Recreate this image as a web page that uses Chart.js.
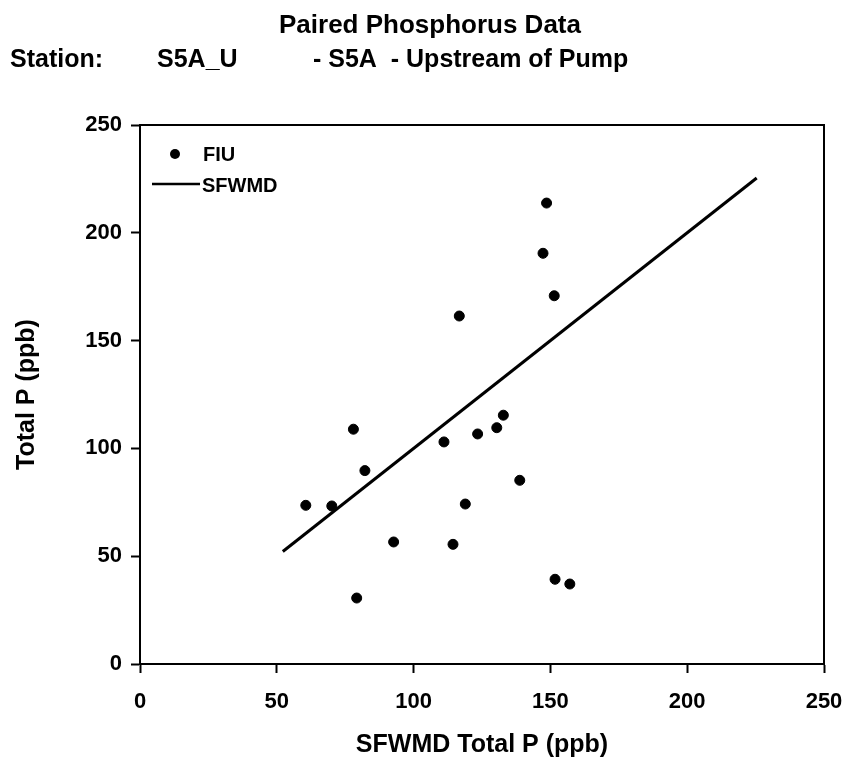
<!DOCTYPE html>
<html>
<head>
<meta charset="utf-8">
<script src="https://cdn.jsdelivr.net/npm/chart.js@4"></script>
<style>
  html, body { margin: 0; padding: 0; background: #fff; }
  #wrap { width: 850px; height: 761px; }
</style>
</head>
<body>
<div id="wrap"><canvas id="pChart" width="850" height="761"></canvas></div>
<script>
// FIU vs SFWMD paired total P (ppb)
const fiuX = [60.6, 70.1, 78.0, 82.2, 79.2, 92.7, 111.1, 114.4, 118.9, 123.4,
              130.4, 132.8, 138.8, 151.7, 157.1, 148.6, 147.3, 151.4, 116.7];
const fiuY = [73.6, 73.3, 108.9, 89.7, 30.6, 56.6, 103.0, 55.5, 74.2, 106.7,
              109.6, 115.4, 85.2, 39.3, 37.1, 213.8, 190.5, 170.8, 161.4];
// SFWMD reference line
const sfwmdX = [52.2, 225.4];
const sfwmdY = [52.2, 225.4];
const tickVals = [0, 50, 100, 150, 200, 250];

const FONT = '"Liberation Sans", Arial, sans-serif';

const fiuPts = fiuX.map((x, i) => ({ x: x, y: fiuY[i] }));
const linePts = sfwmdX.map((x, i) => ({ x: x, y: sfwmdY[i] }));

// titles, frame and inner legend
const decorations = {
    id: 'decorations',
    afterDraw(chart) {
        const c = chart.ctx;
        const a = chart.chartArea;
        c.save();
        c.strokeStyle = '#000';
        c.lineWidth = 2;
        c.beginPath();
        c.moveTo(a.left, a.top);
        c.lineTo(a.right, a.top);
        c.lineTo(a.right, a.bottom);
        c.stroke();

        c.fillStyle = '#000';
        c.textBaseline = 'alphabetic';
        c.font = 'bold 26px ' + FONT;
        c.textAlign = 'center';
        c.fillText('Paired Phosphorus Data', 430, 33);
        c.textAlign = 'left';
        c.font = 'bold 25px ' + FONT;
        c.fillText('Station:', 10, 67);
        c.fillText('S5A_U', 157, 67);
        c.fillText('- S5A  - Upstream of Pump', 313, 67);

        // legend
        c.textBaseline = 'middle';
        c.font = 'bold 20px ' + FONT;
        c.beginPath();
        c.arc(175, 154, 5, 0, Math.PI * 2);
        c.fill();
        c.fillText('FIU', 203, 155);
        c.lineWidth = 2.5;
        c.beginPath();
        c.moveTo(152, 184);
        c.lineTo(200, 184);
        c.stroke();
        c.fillText('SFWMD', 202, 186);
        c.restore();
    }
};

const tickFont = { family: FONT, size: 22, weight: 'bold' };
const titleFont = { family: FONT, size: 25, weight: 'bold' };

new Chart(document.getElementById('pChart').getContext('2d'), {
    type: 'scatter',
    data: {
        datasets: [{
            label: 'FIU',
            data: fiuPts,
            backgroundColor: '#000',
            borderColor: '#000',
            pointRadius: 5,
            pointHoverRadius: 5
        }, {
            label: 'SFWMD',
            type: 'line',
            data: linePts,
            borderColor: '#000',
            borderWidth: 3,
            pointRadius: 0,
            fill: false
        }]
    },
    plugins: [decorations],
    options: {
        responsive: false,
        animation: false,
        layout: { padding: { top: 125, right: 26, left: 0, bottom: 0 } },
        plugins: {
            legend: { display: false },
            tooltip: { enabled: false }
        },
        scales: {
            x: {
                type: 'linear',
                min: 0,
                max: 250,
                afterBuildTicks: s => { s.ticks = tickVals.map(v => ({ value: v })); },
                afterFit: s => { s.height = 97; s.paddingLeft = 0; s.paddingRight = 0; },
                ticks: { font: tickFont, color: '#000', padding: 16, maxRotation: 0 },
                grid: { drawOnChartArea: false, tickLength: 9, tickColor: '#000', tickWidth: 2 },
                border: { color: '#000', width: 2 },
                title: {
                    display: true,
                    text: 'SFWMD Total P (ppb)',
                    font: titleFont,
                    color: '#000',
                    padding: { top: 0, bottom: 1 }
                }
            },
            y: {
                type: 'linear',
                min: 0,
                max: 250,
                afterBuildTicks: s => { s.ticks = tickVals.map(v => ({ value: v })); },
                afterFit: s => { s.width = 140; s.paddingTop = 0; s.paddingBottom = 0; },
                ticks: { font: tickFont, color: '#000', padding: 9 },
                grid: { drawOnChartArea: false, tickLength: 9, tickColor: '#000', tickWidth: 2 },
                border: { color: '#000', width: 2 },
                title: {
                    display: true,
                    text: 'Total P (ppb)',
                    font: titleFont,
                    color: '#000',
                    padding: { top: 12, bottom: 0 }
                }
            }
        }
    }
});
</script>
</body>
</html>
